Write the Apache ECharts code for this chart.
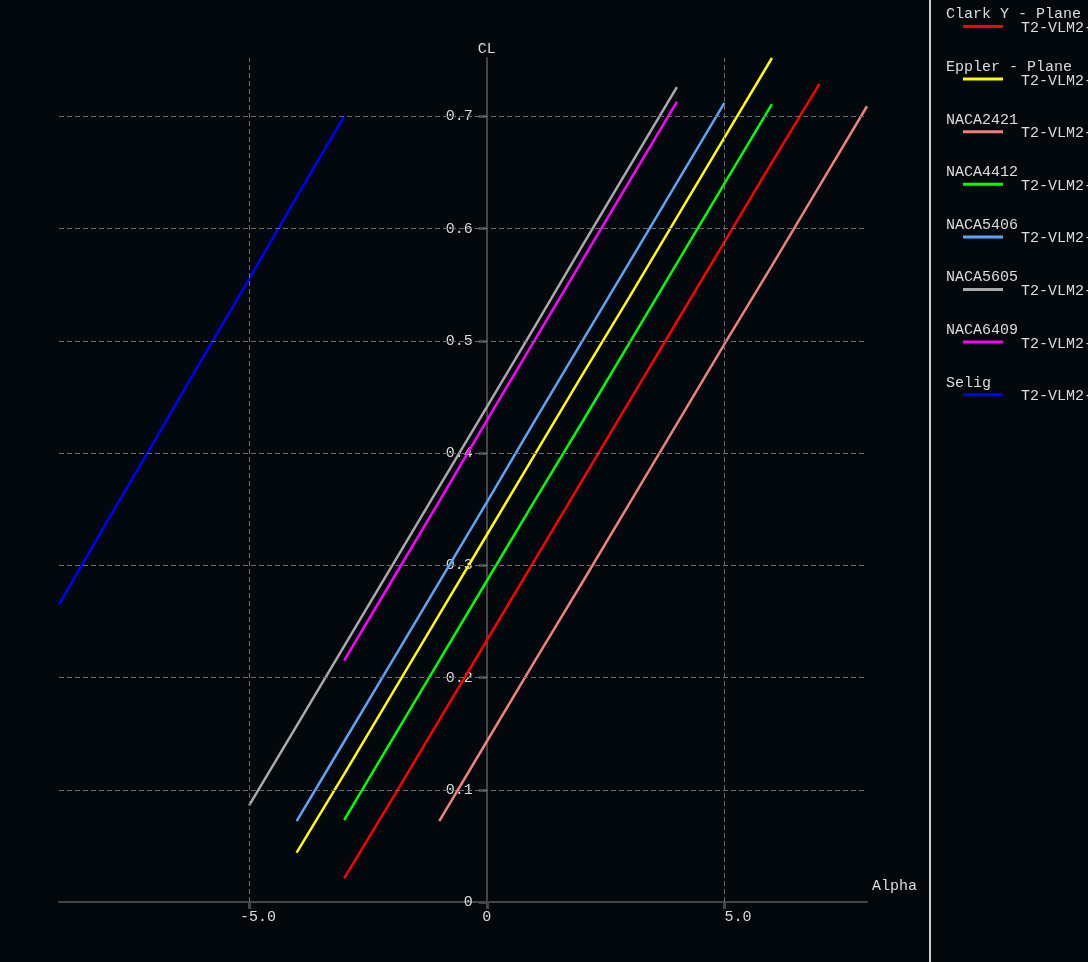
<!DOCTYPE html>
<html><head><meta charset="utf-8">
<script src="https://cdn.jsdelivr.net/npm/echarts@6/dist/echarts.min.js"></script>
<style>html,body{margin:0;padding:0;background:#02080c}#c{width:1088px;height:962px}</style>
</head><body><div id="c"></div>
<script>
// ---- data ----
const seriesNames = ['Clark Y - Plane','Eppler - Plane','NACA2421','NACA4412','NACA5406','NACA5605','NACA6409','Selig'];
const seriesSubLabel = 'T2-VLM2-';
const seriesColors = ['#ff0000','#ffff00','#f08080','#00ff00','#5aa5f5','#a9a9a9','#ff00ff','#0000ff'];

const alphaClarkY = [-3,-2,-1,0,1,2,3,4,5,6,7];
const clClarkY    = [0.021,0.091,0.162,0.233,0.304,0.375,0.446,0.517,0.588,0.659,0.729];
const alphaEppler = [-4,-3,-2,-1,0,1,2,3,4,5,6];
const clEppler    = [0.044,0.114,0.185,0.256,0.327,0.398,0.469,0.539,0.610,0.681,0.752];
const alphaNACA2421 = [-1,0,1,2,3,4,5,6,7,8];
const clNACA2421    = [0.072,0.143,0.214,0.284,0.355,0.426,0.497,0.567,0.638,0.709];
const alphaNACA4412 = [-3,-2,-1,0,1,2,3,4,5,6];
const clNACA4412    = [0.073,0.144,0.215,0.286,0.357,0.427,0.498,0.569,0.640,0.711];
const alphaNACA5406 = [-4,-3,-2,-1,0,1,2,3,4,5];
const clNACA5406    = [0.072,0.143,0.214,0.285,0.356,0.428,0.499,0.570,0.641,0.712];
const alphaNACA5605 = [-5,-4,-3,-2,-1,0,1,2,3,4];
const clNACA5605    = [0.086,0.157,0.228,0.299,0.370,0.441,0.512,0.584,0.655,0.726];
const alphaNACA6409 = [-3,-2,-1,0,1,2,3,4];
const clNACA6409    = [0.215,0.286,0.357,0.429,0.500,0.571,0.642,0.713];
const alphaSelig = [-9,-8,-7,-6,-5,-4,-3];
const clSelig    = [0.265,0.338,0.410,0.483,0.555,0.628,0.700];

const xTickValues = [-5, 0, 5];
const yTickValues = [0, 0.1, 0.2, 0.3, 0.4, 0.5, 0.6, 0.7];
const xAxisName = 'Alpha';
const yAxisName = 'CL';
const xMin = -9, xMax = 8, yMin = 0, yMax = 0.752;

const seriesAlpha = [alphaClarkY, alphaEppler, alphaNACA2421, alphaNACA4412, alphaNACA5406, alphaNACA5605, alphaNACA6409, alphaSelig];
const seriesCL = [clClarkY, clEppler, clNACA2421, clNACA4412, clNACA5406, clNACA5605, clNACA6409, clSelig];

// ---- chart ----
const FONT = '"Liberation Mono", "Courier New", monospace';
const TXT = '#dcdcdc';
const AX = '#454545';
const GRID = '#6a6a6a';
const GRID_LEFT = 59, GRID_RIGHT = 221, GRID_TOP = 58, GRID_BOTTOM = 60;
const plotW = 1088 - GRID_LEFT - GRID_RIGHT;
// place the y axis at alpha = 0
const yAxisOffset = -plotW * (0 - xMin) / (xMax - xMin);

const chart = echarts.init(document.getElementById('c'), null, {renderer: 'canvas'});

const lineSeries = seriesNames.map((name, i) => ({
  name: name,
  type: 'line',
  data: seriesAlpha[i].map((a, k) => [a, seriesCL[i][k]]),
  showSymbol: false,
  symbol: 'none',
  lineStyle: {color: seriesColors[i], width: 2.5},
  itemStyle: {color: seriesColors[i]},
  z: 3,
  silent: true
}));

const gridMarks = [];
xTickValues.filter(v => v !== 0).forEach(v => gridMarks.push({xAxis: v}));
yTickValues.filter(v => v !== 0).forEach(v => gridMarks.push({yAxis: v}));

const gridSeries = {
  name: '__grid',
  type: 'line',
  data: [],
  z: 1,
  silent: true,
  markLine: {
    silent: true,
    symbol: ['none', 'none'],
    label: {show: false},
    lineStyle: {color: GRID, width: 1, type: [5, 3]},
    emphasis: {disabled: true},
    animation: false,
    data: gridMarks
  }
};

// legend built with graphic elements
const legendGraphics = [{
  type: 'line',
  shape: {x1: 930, y1: 0, x2: 930, y2: 962},
  style: {stroke: '#d0d0d0', lineWidth: 2},
  silent: true
}];
seriesNames.forEach((name, i) => {
  const y0 = 14.5 + 52.6 * i;
  legendGraphics.push({
    type: 'text', x: 946, y: y0, silent: true,
    style: {text: name, fill: TXT, font: '15px ' + FONT, verticalAlign: 'middle'}
  });
  legendGraphics.push({
    type: 'line', silent: true,
    shape: {x1: 963, y1: y0 + 12, x2: 1003, y2: y0 + 12},
    style: {stroke: seriesColors[i], lineWidth: 3}
  });
  legendGraphics.push({
    type: 'text', x: 1021, y: y0 + 13.5, silent: true,
    style: {text: seriesSubLabel, fill: TXT, font: '15px ' + FONT, verticalAlign: 'middle'}
  });
});

const option = {
  backgroundColor: '#02080c',
  animation: false,
  textStyle: {fontFamily: FONT},
  grid: {left: GRID_LEFT, right: GRID_RIGHT, top: GRID_TOP, bottom: GRID_BOTTOM, containLabel: false},
  xAxis: {
    type: 'value',
    min: xMin, max: xMax,
    name: xAxisName,
    nameLocation: 'end',
    nameGap: 5,
    nameTextStyle: {color: TXT, fontSize: 15, fontFamily: FONT, verticalAlign: 'bottom', padding: [0, 0, 8, 0], align: 'left'},
    axisLine: {show: true, onZero: false, lineStyle: {color: AX, width: 2}},
    axisTick: {show: true, customValues: xTickValues, length: 7, lineStyle: {color: AX, width: 3}},
    axisLabel: {
      show: true, customValues: xTickValues, margin: 8,
      color: TXT, fontSize: 15, fontFamily: FONT,
      formatter: v => v === 0 ? '0' : (v < 0 ? '{n|' + v.toFixed(1) + '}' : '{p|' + v.toFixed(1) + '}'),
      rich: {
        n: {color: TXT, fontSize: 15, fontFamily: FONT, padding: [0, 0, 0, 18]},
        p: {color: TXT, fontSize: 15, fontFamily: FONT, padding: [0, 0, 0, 27]}
      }
    },
    splitLine: {show: false}
  },
  yAxis: {
    type: 'value',
    min: yMin, max: yMax,
    position: 'left',
    offset: yAxisOffset,
    name: yAxisName,
    nameLocation: 'end',
    nameGap: 1,
    nameTextStyle: {color: TXT, fontSize: 15, fontFamily: FONT},
    axisLine: {show: true, onZero: false, lineStyle: {color: AX, width: 2}},
    axisTick: {show: true, customValues: yTickValues, length: 8, lineStyle: {color: AX, width: 3}},
    axisLabel: {
      show: true, customValues: yTickValues, margin: 14,
      color: TXT, fontSize: 15, fontFamily: FONT,
      formatter: v => v === 0 ? '0' : v.toFixed(1)
    },
    splitLine: {show: false}
  },
  graphic: legendGraphics,
  series: [gridSeries].concat(lineSeries)
};
chart.setOption(option);
</script>
</body></html>
